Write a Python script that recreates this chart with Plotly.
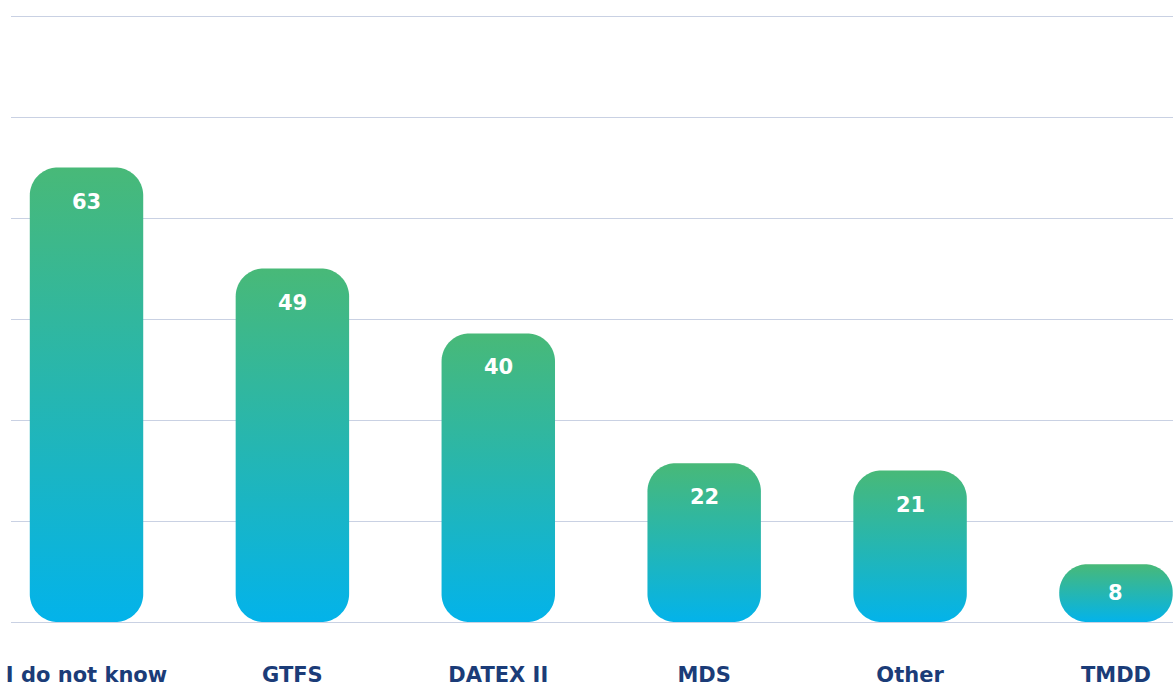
import numpy as np
import plotly.graph_objects as go

categories = ["I do not know", "GTFS", "DATEX II", "MDS", "Other", "TMDD"]
values = [63, 49, 40, 22, 21, 8]

W, H = 1173, 686
m_l, m_r, m_t, m_b = 11, 0, 15, 64
x_range = [-0.3667, 5.277]
y_range = [0, 84.14]
px_x = (W - m_l - m_r) / (x_range[1] - x_range[0])
px_y = (H - m_t - m_b) / (y_range[1] - y_range[0])
bar_w = 0.551
radius_px = 28

def rounded_bar(xc, v):
    hpx = v * px_y
    r = min(radius_px, hpx / 2, bar_w * px_x / 2)
    rx, ry = r / px_x, r / px_y
    x0, x1 = xc - bar_w / 2, xc + bar_w / 2
    y0, y1 = 0, v
    t = np.linspace(0, np.pi / 2, 24)
    xs, ys = [], []
    xs += list(x0 + rx - rx * np.cos(t)); ys += list(y0 + ry - ry * np.sin(t))
    xs += list(x1 - rx + rx * np.sin(t)); ys += list(y0 + ry - ry * np.cos(t))
    xs += list(x1 - rx + rx * np.cos(t)); ys += list(y1 - ry + ry * np.sin(t))
    xs += list(x0 + rx - rx * np.sin(t)); ys += list(y1 - ry + ry * np.cos(t))
    xs.append(xs[0]); ys.append(ys[0])
    return xs, ys

fig = go.Figure()
for i, (c, v) in enumerate(zip(categories, values)):
    xs, ys = rounded_bar(i, v)
    fig.add_trace(go.Scatter(
        x=xs, y=ys, mode="lines", fill="toself",
        line=dict(width=0, color="rgba(0,0,0,0)", simplify=False),
        fillgradient=dict(type="vertical",
                          colorscale=[[0, "#03b3ea"], [1, "#48b978"]]),
        hoverinfo="skip", showlegend=False,
    ))
    hpx = v * px_y
    shift = min(34, hpx / 2)
    fig.add_annotation(x=i, y=v, text=str(v), showarrow=False,
                       yshift=-shift, yanchor="middle",
                       font=dict(family="DejaVu Sans", size=21, color="white", weight="bold"))

fig.update_layout(
    width=W, height=H,
    margin=dict(l=m_l, r=m_r, t=m_t, b=m_b, autoexpand=False),
    plot_bgcolor="white", paper_bgcolor="white",
    xaxis=dict(range=x_range, tickvals=list(range(len(categories))), ticktext=categories,
               showgrid=False, zeroline=False, showline=False, ticks="",
               ticklabelstandoff=38, automargin=False, ticklabeloverflow="allow",
               tickfont=dict(family="DejaVu Sans", size=21, color="#1b3c78", weight="bold")),
    yaxis=dict(range=y_range, dtick=14, showticklabels=False, gridcolor="#c9d1e3",
               gridwidth=1, zeroline=True, zerolinecolor="#c9d1e3", zerolinewidth=1,
               automargin=False),
)
fig.write_html("out.html", config={"displayModeBar": False},
               post_script="document.body.style.margin='0';document.body.style.overflow='hidden';")
